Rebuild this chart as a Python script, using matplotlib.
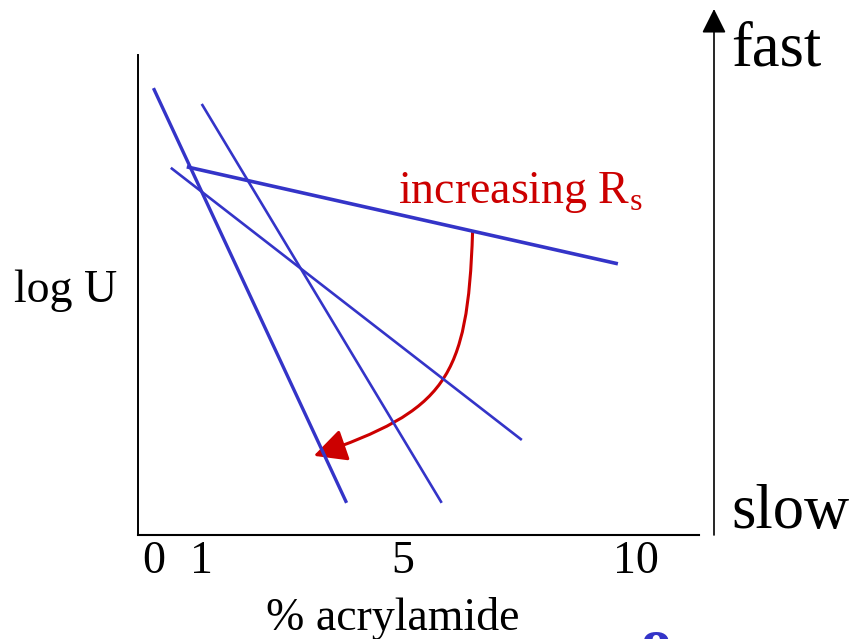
import matplotlib
matplotlib.use("Agg")
import matplotlib.pyplot as plt
import matplotlib.transforms as mtransforms
from matplotlib.patches import FancyArrowPatch
from matplotlib.path import Path

plt.rcParams['font.family'] = ['Liberation Serif', 'DejaVu Serif']
plt.rcParams['mathtext.fontset'] = 'custom'
plt.rcParams['mathtext.rm'] = 'Liberation Serif'

# % acrylamide ticks
ticks = [0, 1, 5, 10]

# lines: (x start, log U start) -> (x end, log U end)
x_start = [0.0, 1.0, 0.36, 0.69]
y_start = [9.31, 8.98, 7.65, 7.67]
x_end = [4.0, 5.97, 7.63, 9.62]
y_end = [0.67, 0.67, 1.98, 5.65]
widths = [2.4, 1.9, 1.9, 2.6]

BLUE = '#3434c8'
RED = '#cc0000'

W, H = 851, 639
fig = plt.figure(figsize=(W / 100, H / 100), dpi=100)
ax = fig.add_axes([138 / W, (H - 535) / H, (699 - 138) / W, (535 - 55) / H])

for xs, ys, xe, ye, lw in zip(x_start, y_start, x_end, y_end, widths):
    ax.plot([xs, xe], [ys, ye], color=BLUE, lw=lw, solid_capstyle='butt')

ax.set_xlim(-0.32, 11.30)
ax.set_ylim(0, 10)
ax.spines['top'].set_visible(False)
ax.spines['right'].set_visible(False)
ax.spines['left'].set_linewidth(1.4)
ax.spines['bottom'].set_linewidth(1.5)
ax.set_yticks([])
ax.set_xticks(ticks)
ax.set_xticklabels([str(t) for t in ticks])
ax.tick_params(axis='x', length=0, pad=4, labelsize=33)
# the "5" sits a little right of its linear spot on the slide
lab5 = ax.get_xticklabels()[2]
lab5.set_transform(lab5.get_transform() +
                   mtransforms.ScaledTranslation(8 / 100, 0, fig.dpi_scale_trans))

# red curved arrow
curve = Path([(6.61, 6.31), (6.51, 3.23), (6.04, 2.60), (3.32, 1.65)],
             [Path.MOVETO, Path.CURVE4, Path.CURVE4, Path.CURVE4])
ax.add_patch(FancyArrowPatch(path=curve, arrowstyle='-|>,head_length=20,head_width=10',
                             mutation_scale=1, color=RED, lw=2.2))
ax.text(5.06, 6.92, 'increasing R$_\\mathrm{s}$', color=RED, fontsize=33,
        va='baseline', ha='left')

# labels
fig.text(14 / W, (H - 302) / H, 'log U', fontsize=33, va='baseline', ha='left')
fig.text(393 / W, (H - 630) / H, '% acrylamide', fontsize=33, va='baseline', ha='center')

# speed arrow on the right
fig.patches.append(FancyArrowPatch((714 / W, (H - 535) / H), (714 / W, (H - 9) / H),
                                   transform=fig.transFigure, figure=fig,
                                   arrowstyle='-|>,head_length=15,head_width=7.5',
                                   mutation_scale=1, color='black', lw=1.2,
                                   shrinkA=0, shrinkB=0))
fig.text(731 / W, (H - 66) / H, 'fast', fontsize=45, va='baseline', ha='left')
fig.text(731 / W, (H - 528) / H, 'slow', fontsize=45, va='baseline', ha='left')

# stray glyph cut off at the bottom edge
fig.text(656 / W, (H - 628) / H, '8', fontsize=44, color=BLUE, fontweight='bold',
         va='top', ha='center')

fig.savefig('out.png', dpi=100)
